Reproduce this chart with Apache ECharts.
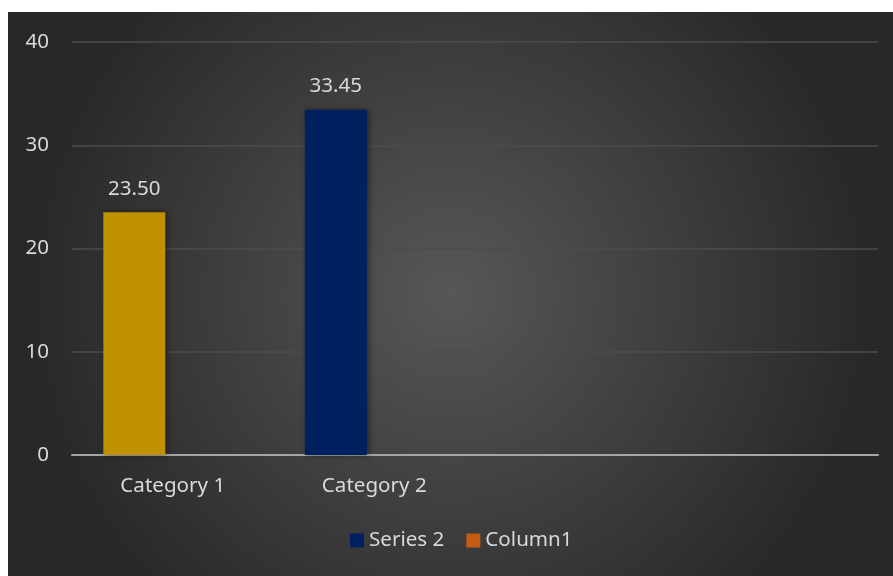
<!DOCTYPE html>
<html>
<head>
<meta charset="utf-8">
<script src="https://cdn.jsdelivr.net/npm/echarts@6/dist/echarts.min.js"></script>
<style>
  html, body { margin: 0; padding: 0; background: #ffffff; width: 893px; height: 576px; overflow: hidden; }
  #chart { position: absolute; left: 8px; top: 12px; width: 885px; height: 564px; }
</style>
</head>
<body>
<div id="chart"></div>
<script>
const categories = ['Category 1', 'Category 2', '', ''];
const series2Values = [23.5, 33.45, null, null];
const column1Values = [null, null, null, null];
const pointColors = ['#bf9000', '#002060', '#002060', '#002060'];
const yTicks = { min: 0, max: 40, interval: 10 };

const textColor = '#d9d9d9';
const fontFamily = '"Noto Sans", "Open Sans", sans-serif';
const fs = 20.6;

const chart = echarts.init(document.getElementById('chart'));
chart.setOption({
  backgroundColor: {
    type: 'radial', x: 0.5, y: 0.5, r: 0.75,
    colorStops: [
      { offset: 0, color: '#575757' },
      { offset: 1, color: '#282828' }
    ]
  },
  textStyle: { fontFamily: fontFamily },
  animation: false,
  grid: { left: 64, right: 15, top: 30, bottom: 121, containLabel: false },
  legend: {
    left: 337, top: 513,
    itemWidth: 14, itemHeight: 14, itemGap: 22,
    icon: 'rect',
    textStyle: { color: textColor, fontSize: fs, fontFamily: fontFamily },
    data: ['Series 2', 'Column1']
  },
  xAxis: {
    type: 'category',
    data: categories,
    axisLine: { lineStyle: { color: '#a6a6a6', width: 2 } },
    axisTick: { show: false },
    axisLabel: { color: textColor, fontSize: fs, margin: 21, fontFamily: fontFamily }
  },
  yAxis: {
    type: 'value',
    min: yTicks.min, max: yTicks.max, interval: yTicks.interval,
    axisLine: { show: false },
    axisTick: { show: false },
    axisLabel: { color: textColor, fontSize: fs, margin: 23, fontFamily: fontFamily },
    splitLine: { lineStyle: { color: '#4d4d4d', width: 1.5 } }
  },
  series: [
    {
      name: 'Series 2',
      type: 'bar',
      barWidth: 62,
      barGap: '24%',
      itemStyle: { color: '#002060', shadowBlur: 6, shadowColor: 'rgba(0,0,0,0.45)', shadowOffsetX: 2, shadowOffsetY: 0 },
      data: series2Values.map((v, i) => ({ value: v, itemStyle: { color: pointColors[i] } })),
      label: {
        show: true, position: 'top', distance: 13,
        color: textColor, fontSize: fs, fontFamily: fontFamily,
        formatter: p => (p.value == null ? '' : Number(p.value).toFixed(2))
      }
    },
    {
      name: 'Column1',
      type: 'bar',
      barWidth: 62,
      itemStyle: { color: '#c55a11' },
      data: column1Values
    }
  ]
});
</script>
</body>
</html>
